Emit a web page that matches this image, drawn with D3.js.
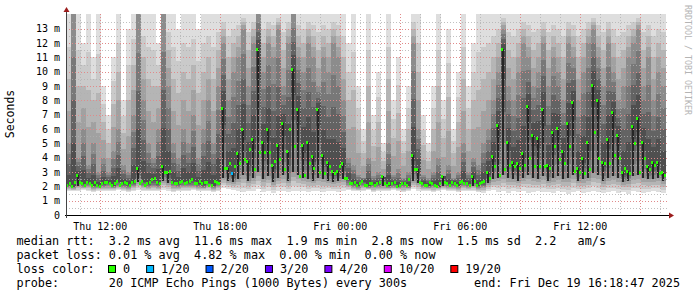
<!DOCTYPE html>
<html>
<head>
<meta charset="utf-8">
<script src="https://cdn.jsdelivr.net/npm/d3@7"></script>
<style>
  body { margin: 0; background: #fff; }
  text { font-family: "DejaVu Sans Mono", monospace; }
</style>
</head>
<body>
<svg id="chart" width="697" height="297"></svg>
<script>
// smokeping style latency graph, 30h window ending Fri Dec 19 16:18:47

var startTime = new Date(2025, 11, 18, 10, 18, 47),
    endTime = new Date(2025, 11, 19, 16, 18, 47),
    stepMinutes = 15;

// median rtt, first half of each step (ms)
var medianMs = [
  2.1,2.0,2.8,2.2,2.3,2.1,2.1,2.2,2.3,2.1,2.4,2.2,2.2,2.3,3.3,2.4,2.2,2.5,2.3,3.4,3.0,2.3,2.2,2.4,
  2.3,2.5,2.2,2.2,2.3,2.1,2.3,7.5,3.3,2.9,4.3,6.0,3.8,5.3,11.6,5.1,6.0,3.5,4.9,6.4,4.5,10.2,7.4,4.9,
  5.1,4.1,7.4,4.2,3.7,3.1,3.1,3.6,2.6,2.2,2.1,2.4,2.1,2.2,2.2,2.7,2.1,2.2,2.0,2.2,2.1,4.2,3.2,2.2,
  2.1,2.2,2.0,2.7,2.2,2.3,2.1,2.4,2.2,2.7,2.1,2.3,3.0,4.1,6.3,11.6,5.1,3.7,3.6,4.3,7.6,5.6,5.4,7.4,
  3.5,5.8,6.1,4.5,6.4,7.9,3.3,4.0,5.1,9.1,8.0,3.7,5.3,7.2,5.6,3.0,3.1,6.2,6.8,5.1,3.4,3.7,3.7,3.0
];

// median rtt, second half of each step (ms)
var medianLateMs = [
  2.2,2.3,2.3,2.1,2.2,2.3,2.0,2.3,2.2,2.2,2.1,2.3,2.1,2.4,2.2,2.1,2.3,2.6,2.2,3.0,3.1,2.2,2.3,2.2,
  2.4,2.2,2.4,2.3,2.1,2.4,2.2,3.3,3.6,3.4,3.6,3.9,4.6,3.2,4.4,4.4,4.4,3.8,3.9,3.2,6.0,4.8,2.7,2.8,
  3.6,3.3,3.0,2.9,3.4,2.9,3.4,2.6,2.2,2.3,2.2,2.1,2.2,2.1,2.3,2.2,2.2,2.3,2.1,2.2,2.5,3.2,2.3,2.1,
  2.3,2.1,2.2,2.3,2.1,2.2,2.3,2.2,2.1,2.4,2.2,2.4,2.6,3.4,2.8,3.2,3.5,3.4,3.3,3.5,4.0,3.4,3.4,3.4,
  3.3,4.8,3.9,3.6,4.8,3.1,3.0,2.9,3.2,5.8,4.0,3.6,3.6,4.2,4.0,3.3,2.9,5.0,3.0,4.0,3.2,3.5,2.9,2.8
];

// fastest ping per step (ms)
var lowMs = [
  1.7,1.65,1.7,1.75,1.7,1.6,1.7,1.7,1.65,1.7,1.75,1.7,1.6,1.7,1.75,1.7,1.65,1.7,1.7,1.75,1.7,1.6,1.7,1.7,
  1.7,1.75,1.65,1.7,1.7,1.6,1.7,1.9,1.8,1.75,1.7,1.6,1.65,1.7,1.8,1.6,1.7,1.55,1.7,1.65,1.6,1.7,1.65,1.7,
  1.6,1.7,1.65,1.6,1.7,1.65,1.6,1.7,1.75,1.7,1.65,1.7,1.75,1.6,1.7,1.65,1.7,1.75,1.7,1.6,1.7,1.8,1.7,1.65,
  1.7,1.6,1.7,1.75,1.65,1.7,1.6,1.7,1.65,1.7,1.6,1.55,1.7,1.75,1.6,1.7,1.55,1.65,1.6,1.7,1.55,1.6,1.65,1.6,
  1.6,1.55,1.65,1.6,1.5,1.6,1.65,1.55,1.6,1.7,1.6,1.55,1.6,1.65,1.55,1.6,1.5,1.65,1.6,1.55,1.6,1.65,1.6,1.55
];

// lower quartile of pings (ms)
var q25Ms = [
  1.95,1.9,2.0,1.95,2.0,1.9,1.9,1.95,2.0,1.9,2.0,1.95,1.9,2.0,2.3,2.0,1.95,2.0,1.95,2.4,2.2,2.0,1.95,2.0,
  2.0,2.0,1.95,1.9,2.0,1.9,2.0,2.6,2.4,2.3,2.5,2.8,2.4,2.6,3.0,2.5,2.7,2.3,2.6,2.8,2.4,3.0,2.8,2.6,
  2.5,2.4,2.6,2.5,2.4,2.3,2.4,2.5,2.1,1.95,1.9,2.0,1.9,1.95,1.95,2.0,1.9,1.95,1.9,1.95,1.9,2.4,2.2,1.95,
  1.9,1.95,1.9,2.0,1.95,1.95,1.9,2.0,1.95,2.0,1.9,1.95,2.2,2.5,2.6,2.8,2.6,2.5,2.4,2.6,2.8,2.6,2.5,2.7,
  2.4,2.6,2.7,2.5,2.6,2.8,2.4,2.5,2.6,2.9,2.8,2.4,2.6,2.7,2.6,2.3,2.4,2.7,2.8,2.6,2.5,2.5,2.6,2.4
];

// upper quartile of pings (ms)
var q75Ms = [
  5,14,4,6,3.5,5,3,4,3,4.5,6,3.5,3,7,14,8,5,4,6,14,9,5,4,6,
  5,7,4,6,8,5,9,12,8,10,11,13,9,12,14,10,12,11,13,9,12,14,11,10,
  12,11,9,11,10,12,11,8,4,3.5,2.8,2.6,4,2.7,3,2.6,5,2.8,3.2,2.6,3,12,6,2.8,
  2.6,3,4,2.7,3.5,2.6,3,5,3,4,3.5,5,6,8,10,13,9,8,10,12,11,9,10,12,
  9,11,10,8,12,11,8,10,12,13,11,9,12,10,8,9,11,12,13,9,11,8,10,9
];

// slowest ping per step (ms, clipped at top of graph)
var highMs = [
  14,14,14,12,14,11,14,9,7,11,14,8,13,14,10,14,14,14,12,14,14,14,13,14,
  14,14,13,14,14,14,14,14,14,14,14,14,14,14,14,14,14,14,14,14,14,14,14,14,
  14,14,14,14,14,14,14,14,12,14,9,6,14,7,10,5,14,8,11,6,9,14,14,7,
  5,9,14,8,13,6,10,14,9,12,14,14,14,14,14,14,14,14,14,14,14,14,14,14,
  14,14,14,14,14,14,14,14,14,14,14,14,14,14,14,14,14,14,14,14,14,14,14,14
];

// lost pings out of 20: one ping lost in the first half of step 33 only
var lossCount = medianMs.map(function(d, i) { return i === 33 ? 1 : 0; }),
    lossLateCount = medianLateMs.map(function() { return 0; });

var lossBuckets = [0, 1, 2, 3, 4, 10, 19],
    lossLabels = ["0", "1/20", "2/20", "3/20", "4/20", "10/20", "19/20"],
    lossColors = ["#26ff00", "#00b8ff", "#0059ff", "#5e00ff", "#7e00ff", "#dd00ff", "#ff0000"];

var legendLines = [
  "median rtt:  3.2 ms avg  11.6 ms max  1.9 ms min  2.8 ms now  1.5 ms sd  2.2   am/s",
  "packet loss: 0.01 % avg  4.82 % max  0.00 % min  0.00 % now"
];
var probeText = "probe:       20 ICMP Echo Pings (1000 Bytes) every 300s",
    endText = "end: Fri Dec 19 16:18:47 2025";

var svg = d3.select('#chart');

var plot = { left: 66, right: 666, top: 14.4, bottom: 215 };

var x = d3.scaleTime().domain([startTime, endTime]).range([plot.left, plot.right]),
    y = d3.scaleLinear().domain([0, 14]).range([plot.bottom, plot.top]);

var steps = medianMs.map(function(m, i) {
  var t0 = d3.timeMinute.offset(startTime, i * stepMinutes);
  return {
    t0: t0,
    tm: d3.timeSecond.offset(t0, stepMinutes * 30),
    t1: d3.timeMinute.offset(t0, stepMinutes),
    med: m, med2: medianLateMs[i],
    lo: lowMs[i], q25: q25Ms[i], q75: q75Ms[i], hi: Math.min(highMs[i], 14),
    loss: lossCount[i], loss2: lossLateCount[i]
  };
});

// smoke: nested layers that darken from the extremes in towards the median
var smoke = svg.append('g').attr('shape-rendering', 'crispEdges'),
    nLayers = 8,
    shade = d3.interpolateRgb('#dedede', '#3a3a3a');

function layerBounds(d, t) {
  var lo, hi;
  if (t <= 0.5) {
    lo = d.lo + (d.q25 - d.lo) * t * 2;
    hi = d.hi + (d.q75 - d.hi) * t * 2;
  } else {
    lo = d.q25 + (d.med - d.q25) * (t - 0.5) * 2;
    hi = d.q75 + (d.med - d.q75) * (t - 0.5) * 2;
  }
  return [lo, Math.max(hi, lo)];
}

d3.range(nLayers).forEach(function(k) {
  var t = k / nLayers;
  smoke.append('g')
    .selectAll('rect')
    .data(steps)
    .enter().append('rect')
    .attr('x', function(d) { return x(d.t0); })
    .attr('width', function(d) { return x(d.t1) - x(d.t0); })
    .attr('y', function(d) { return y(layerBounds(d, t)[1]); })
    .attr('height', function(d) { var b = layerBounds(d, t); return y(b[0]) - y(b[1]); })
    .attr('fill', shade(t));
});

// thin dark streak from the lower quartile up to the median
smoke.append('g')
  .selectAll('rect')
  .data(steps.filter(function(d) { return d.med - d.q25 > 0.6; }))
  .enter().append('rect')
  .attr('x', function(d) { return Math.round(x(d.t0)) + 1; })
  .attr('width', 2)
  .attr('y', function(d) { return y(d.med); })
  .attr('height', function(d) { return y(d.q25) - y(d.med); })
  .attr('fill', '#262626');

// grid drawn over the data like rrdtool does
var grid = svg.append('g').attr('shape-rendering', 'crispEdges');

grid.selectAll('line.hmin')
  .data(d3.range(0.5, 14, 1))
  .enter().append('line')
  .attr('x1', plot.left).attr('x2', plot.right + 2)
  .attr('y1', function(d) { return Math.round(y(d)) + 0.5; })
  .attr('y2', function(d) { return Math.round(y(d)) + 0.5; })
  .attr('stroke', '#b0b0b0').attr('stroke-opacity', 0.8)
  .attr('stroke-dasharray', '1,2');

var vMinor = x.ticks(d3.timeHour.every(1)),
    vMajor = x.ticks(d3.timeHour.every(3));

grid.selectAll('line.vmin')
  .data(vMinor)
  .enter().append('line')
  .attr('x1', function(d) { return Math.round(x(d)) + 0.5; })
  .attr('x2', function(d) { return Math.round(x(d)) + 0.5; })
  .attr('y1', plot.top).attr('y2', plot.bottom)
  .attr('stroke', '#b0b0b0').attr('stroke-opacity', 0.8)
  .attr('stroke-dasharray', '1,2');

grid.selectAll('line.hmaj')
  .data(d3.range(1, 14))
  .enter().append('line')
  .attr('x1', plot.left).attr('x2', plot.right + 2)
  .attr('y1', function(d) { return Math.round(y(d)) + 0.5; })
  .attr('y2', function(d) { return Math.round(y(d)) + 0.5; })
  .attr('stroke', '#e08a8a')
  .attr('stroke-dasharray', '1,2');

grid.selectAll('line.vmaj')
  .data(vMajor)
  .enter().append('line')
  .attr('x1', function(d) { return Math.round(x(d)) + 0.5; })
  .attr('x2', function(d) { return Math.round(x(d)) + 0.5; })
  .attr('y1', plot.top).attr('y2', plot.bottom)
  .attr('stroke', '#e08a8a')
  .attr('stroke-dasharray', '1,2');

// median marks coloured by loss, two per step
function lossColor(n) {
  var idx = 0;
  lossBuckets.forEach(function(b, i) { if (n >= b) idx = i; });
  return lossColors[idx];
}

var dots = svg.append('g').attr('shape-rendering', 'crispEdges');

dots.selectAll('rect.m1')
  .data(steps)
  .enter().append('rect')
  .attr('class', 'm1')
  .attr('x', function(d) { return Math.round(x(d.t0)); })
  .attr('width', 2)
  .attr('y', function(d) { return Math.round(y(d.med)) - 1; })
  .attr('height', 3)
  .attr('fill', function(d) { return lossColor(d.loss); });

dots.selectAll('rect.m2')
  .data(steps)
  .enter().append('rect')
  .attr('class', 'm2')
  .attr('x', function(d) { return Math.round(x(d.tm)); })
  .attr('width', 2)
  .attr('y', function(d) { return Math.round(y(d.med2)) - 1; })
  .attr('height', 3)
  .attr('fill', function(d) { return lossColor(d.loss2); });

// axes
var xAxis = d3.axisBottom(x)
  .ticks(d3.timeHour.every(6))
  .tickFormat(d3.timeFormat('%a %H:%M'))
  .tickSize(0).tickPadding(7);

var gx = svg.append('g')
  .attr('transform', 'translate(0,' + (plot.bottom + 0.5) + ')')
  .call(xAxis);
gx.select('.domain').remove();
gx.selectAll('text').attr('font-size', '10px').attr('font-family', '"DejaVu Sans Mono", monospace').attr('fill', '#000');

var yAxis = d3.axisLeft(y)
  .tickValues(d3.range(0, 14))
  .tickFormat(function(d) { return d === 0 ? '0' : d + ' m'; })
  .tickSize(0).tickPadding(6);

var gy = svg.append('g')
  .attr('transform', 'translate(' + plot.left + ',0)')
  .call(yAxis);
gy.select('.domain').remove();
gy.selectAll('text').attr('font-size', '10px').attr('font-family', '"DejaVu Sans Mono", monospace').attr('fill', '#000');

svg.append('line')
  .attr('x1', plot.left - 1).attr('x2', plot.right + 4)
  .attr('y1', plot.bottom + 0.5).attr('y2', plot.bottom + 0.5)
  .attr('stroke', '#000').attr('shape-rendering', 'crispEdges');
svg.append('line')
  .attr('x1', plot.left + 0.5).attr('x2', plot.left + 0.5)
  .attr('y1', plot.bottom + 3).attr('y2', 10)
  .attr('stroke', '#444').attr('shape-rendering', 'crispEdges');

// arrow heads
svg.append('path')
  .attr('d', 'M' + (plot.right + 3) + ',' + (plot.bottom - 2.5) + 'l5,3l-5,3z')
  .attr('fill', '#9b1c1c');
svg.append('path')
  .attr('d', 'M' + (plot.left - 2.5) + ',12l3,-5l3,5z')
  .attr('fill', '#9b1c1c');

// axis title
svg.append('text')
  .attr('transform', 'translate(14,114) rotate(-90)')
  .attr('text-anchor', 'middle')
  .attr('font-family', '"DejaVu Sans", sans-serif')
  .attr('font-size', '11.5px')
  .text('Seconds');

// watermark
svg.append('text')
  .attr('transform', 'translate(685,5) rotate(90)')
  .attr('font-size', '8.3px')
  .attr('fill', '#b4b4b4')
  .text('RRDTOOL / TOBI OETIKER');

// legend
var legendX = 16.5, legendFont = '11.8px';

legendLines.forEach(function(line, i) {
  svg.append('text')
    .attr('x', legendX).attr('y', 245 + i * 14)
    .attr('font-size', legendFont)
    .style('white-space', 'pre')
    .text(line);
});

var lossRow = svg.append('g');
lossRow.append('text')
  .attr('x', legendX).attr('y', 273)
  .attr('font-size', legendFont)
  .style('white-space', 'pre')
  .text('loss color:');

var cx = 108;
lossLabels.forEach(function(lbl, i) {
  lossRow.append('rect')
    .attr('x', cx + 0.5).attr('y', 265.5)
    .attr('width', 7).attr('height', 7)
    .attr('fill', lossColors[i])
    .attr('stroke', '#000');
  var t = lossRow.append('text')
    .attr('x', cx + 15).attr('y', 273)
    .attr('font-size', legendFont)
    .text(lbl);
  cx = cx + 15 + t.node().getComputedTextLength() + 16;
});

svg.append('text')
  .attr('x', legendX).attr('y', 287)
  .attr('font-size', legendFont)
  .style('white-space', 'pre')
  .text(probeText);

svg.append('text')
  .attr('x', 680).attr('y', 287)
  .attr('text-anchor', 'end')
  .attr('font-size', legendFont)
  .text(endText);
</script>
</body>
</html>
